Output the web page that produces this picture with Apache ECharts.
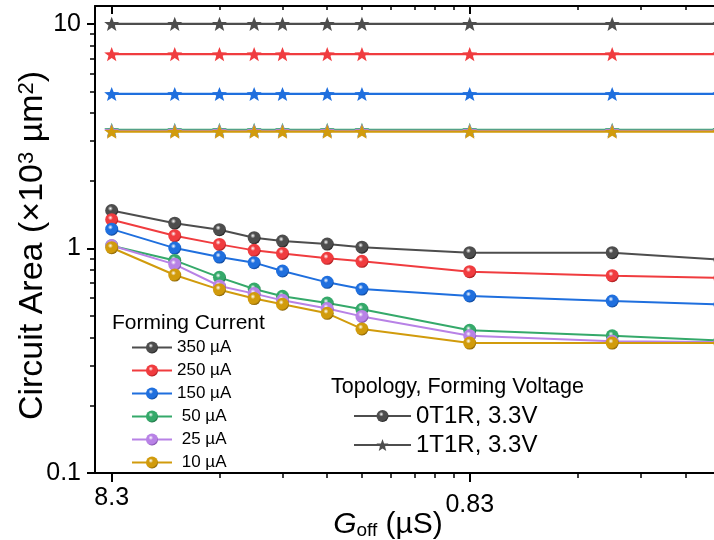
<!DOCTYPE html>
<html><head><meta charset="utf-8">
<script src="https://cdn.jsdelivr.net/npm/echarts@6/dist/echarts.min.js"></script>
<style>html,body{margin:0;padding:0;background:#fff}#c{width:714px;height:540px}</style>
</head><body><div id="c"></div>
<script>
// ---- data ----
const gOff = [8.3, 5.533, 4.15, 3.32, 2.767, 2.075, 1.66, 0.83, 0.332, 0.166];
const xTickValues = [8.3, 0.83];
const xTickLabels = ['8.3', '0.83'];
const xMinorTicks = [4.15, 2.7667, 2.075, 1.66, 1.3833, 1.1857, 1.0375, 0.9222, 0.415, 0.2767, 0.2075, 0.166];
const yTickValues = [0.1, 1, 10];
const yTickLabels = ['0.1', '1', '10'];
const yMinorTicks = [0.2, 0.3, 0.4, 0.5, 0.6, 0.7, 0.8, 0.9, 2, 3, 4, 5, 6, 7, 8, 9];
const currents = ['350 µA', '250 µA', '150 µA', ' 50 µA', ' 25 µA', ' 10 µA'];
const topologies = ['0T1R, 3.3V', '1T1R, 3.3V'];
// 0T1R (circles)
const a0_350 = [1.475, 1.295, 1.211, 1.116, 1.078, 1.045, 1.013, 0.957, 0.957, 0.891];
const a0_250 = [1.342, 1.139, 1.042, 0.980, 0.950, 0.903, 0.876, 0.788, 0.756, 0.739];
const a0_150 = [1.218, 1.003, 0.915, 0.864, 0.793, 0.706, 0.659, 0.614, 0.583, 0.563];
const a0_50  = [1.028, 0.884, 0.743, 0.659, 0.612, 0.571, 0.536, 0.432, 0.408, 0.389];
const a0_25  = [1.030, 0.849, 0.680, 0.629, 0.587, 0.540, 0.498, 0.408, 0.386, 0.383];
const a0_10  = [1.007, 0.761, 0.655, 0.598, 0.564, 0.514, 0.438, 0.379, 0.379, 0.379];
// 1T1R (stars)
const a1_350 = [10, 10, 10, 10, 10, 10, 10, 10, 10, 10];
const a1_250 = [7.33, 7.33, 7.33, 7.33, 7.33, 7.33, 7.33, 7.33, 7.33, 7.33];
const a1_150 = [4.87, 4.87, 4.87, 4.87, 4.87, 4.87, 4.87, 4.87, 4.87, 4.87];
const a1_50  = [3.37, 3.37, 3.37, 3.37, 3.37, 3.37, 3.37, 3.37, 3.37, 3.37];
const a1_25  = [3.34, 3.34, 3.34, 3.34, 3.34, 3.34, 3.34, 3.34, 3.34, 3.34];
const a1_10  = [3.31, 3.31, 3.31, 3.31, 3.31, 3.31, 3.31, 3.31, 3.31, 3.31];

const circleSets = [a0_350, a0_250, a0_150, a0_50, a0_25, a0_10];
const starSets = [a1_350, a1_250, a1_150, a1_50, a1_25, a1_10];

// ---- styles ----
const colors = ['#4d4d4d', '#f03c3f', '#1f6fde', '#35a96a', '#b882e6', '#d19b0c'];
const darks  = ['#222222', '#a81a1d', '#0d4699', '#1c6f42', '#7c4aa8', '#8a6405'];
const grey = '#4d4d4d';
const FONT = '"Liberation Sans", Arial, sans-serif';
const STAR = 'path://M12,1 L14.9,8.6 L23,8.9 L16.7,13.9 L18.9,21.8 L12,17.3 L5.1,21.8 L7.3,13.9 L1,8.9 L9.1,8.6 Z';

function ball(c, d) {
  return { type: 'radial', x: 0.4, y: 0.35, r: 0.65,
    colorStops: [{ offset: 0, color: '#ffffff' }, { offset: 0.3, color: c }, { offset: 0.8, color: c }, { offset: 1, color: d }] };
}
const pairs = arr => gOff.map((g, i) => [g, arr[i]]);

const series = [];
circleSets.forEach((arr, i) => {
  series.push({ name: currents[i], type: 'line', data: pairs(arr), symbol: 'circle', symbolSize: 13,
    lineStyle: { color: colors[i], width: 2 }, itemStyle: { color: ball(colors[i], darks[i]) }, z: 3 + i });
});
starSets.forEach((arr, i) => {
  series.push({ name: currents[i], type: 'line', data: pairs(arr), symbol: STAR, symbolSize: 15, symbolKeepAspect: true,
    lineStyle: { color: colors[i], width: 2.2 }, itemStyle: { color: colors[i] }, z: 3 + i });
});
series.push({ name: topologies[0], type: 'line', data: [], symbol: 'circle', symbolSize: 12,
  lineStyle: { color: grey, width: 2 }, itemStyle: { color: ball(grey, '#222') } });
series.push({ name: topologies[1], type: 'line', data: [], symbol: STAR, symbolSize: 14, symbolKeepAspect: true,
  lineStyle: { color: grey, width: 2 }, itemStyle: { color: grey } });

const X_MIN = 0.1507, X_MAX = 9.24, Y_MIN = 0.1, Y_MAX = 12;
const baseX = { type: 'log', logBase: 10, min: X_MIN, max: X_MAX, inverse: true, splitLine: { show: false } };
const baseY = { type: 'log', logBase: 10, min: Y_MIN, max: Y_MAX, splitLine: { show: false } };

const option = {
  animation: false,
  backgroundColor: '#fff',
  grid: { left: 95, right: -21, top: 6, bottom: 67, containLabel: false, outerBoundsMode: 'none' },
  title: [
    { text: 'Forming Current', left: 107, top: 308, textStyle: { fontFamily: FONT, fontSize: 21, fontWeight: 'normal', color: '#000' } },
    { text: 'Topology, Forming Voltage', left: 326, top: 371, textStyle: { fontFamily: FONT, fontSize: 21.5, fontWeight: 'normal', color: '#000' } }
  ],
  legend: [
    { data: currents, orient: 'vertical', left: 126, top: 334, itemWidth: 40, itemHeight: 15, itemGap: 6,
      textStyle: { fontFamily: FONT, fontSize: 17, color: '#000' }, selectedMode: false },
    { data: topologies, orient: 'vertical', left: 348, top: 399, itemWidth: 57, itemHeight: 15, itemGap: 5,
      textStyle: { fontFamily: FONT, fontSize: 24, color: '#000' }, selectedMode: false }
  ],
  xAxis: [
    Object.assign({}, baseX, {
      position: 'bottom',
      name: '{i|G}{sub|off} (µS)', nameLocation: 'middle', nameGap: 36, nameMoveOverlap: false,
      nameTextStyle: { fontFamily: FONT, fontSize: 30, color: '#000', padding: [0, 54, 0, 0],
        rich: { i: { fontFamily: FONT, fontSize: 30, fontStyle: 'italic', color: '#000' },
                sub: { fontFamily: FONT, fontSize: 19, color: '#000', verticalAlign: 'bottom', padding: [12, 0, 0, 0] } } },
      axisLine: { show: true, lineStyle: { color: '#000', width: 2 } },
      axisTick: { show: true, inside: false, length: 9, lineStyle: { color: '#000', width: 2 }, customValues: xTickValues },
      axisLabel: { show: true, margin: 13, customValues: xTickValues, fontFamily: FONT, fontSize: 25, color: '#000',
        formatter: v => { const i = xTickValues.findIndex(t => Math.abs(t - v) < 1e-6); return i === 1 ? '{lo|' + xTickLabels[i] + '}' : xTickLabels[Math.max(i, 0)]; },
        rich: { lo: { fontFamily: FONT, fontSize: 25, color: '#000', padding: [7, 0, 0, 0] } } }
    }),
    Object.assign({}, baseX, {
      position: 'bottom', axisLine: { show: false },
      axisTick: { show: true, inside: false, length: 5, lineStyle: { color: '#000', width: 1.5 }, customValues: xMinorTicks },
      axisLabel: { show: false }
    }),
    Object.assign({}, baseX, {
      position: 'top', axisLine: { show: true, lineStyle: { color: '#000', width: 2 } },
      axisTick: { show: true, inside: true, length: 8, lineStyle: { color: '#000', width: 2 }, customValues: xTickValues },
      axisLabel: { show: false }
    }),
    Object.assign({}, baseX, {
      position: 'top', axisLine: { show: false },
      axisTick: { show: true, inside: true, length: 4, lineStyle: { color: '#000', width: 1.5 }, customValues: xMinorTicks },
      axisLabel: { show: false }
    })
  ],
  yAxis: [
    Object.assign({}, baseY, {
      position: 'left',
      name: 'Circuit Area (×10{sup|3} µm{sup|2})', nameLocation: 'middle', nameGap: 45, nameRotate: 90, nameMoveOverlap: false,
      nameTextStyle: { fontFamily: FONT, fontSize: 34, color: '#000', padding: [0, 12, 0, 0],
        rich: { sup: { fontFamily: FONT, fontSize: 22, color: '#000', verticalAlign: 'top' } } },
      axisLine: { show: true, lineStyle: { color: '#000', width: 2 } },
      axisTick: { show: true, inside: false, length: 8, lineStyle: { color: '#000', width: 2 }, customValues: yTickValues },
      axisLabel: { show: true, margin: 14, customValues: yTickValues, fontFamily: FONT, fontSize: 25, color: '#000',
        formatter: v => { const i = yTickValues.findIndex(t => Math.abs(t - v) / t < 1e-6); return yTickLabels[Math.max(i, 0)]; } }
    }),
    Object.assign({}, baseY, {
      position: 'left', axisLine: { show: false },
      axisTick: { show: true, inside: false, length: 5, lineStyle: { color: '#000', width: 1.5 }, customValues: yMinorTicks },
      axisLabel: { show: false }
    })
  ],
  series: series
};
const chart = echarts.init(document.getElementById('c'), null, { renderer: 'canvas' });
chart.setOption(option);
</script></body></html>
